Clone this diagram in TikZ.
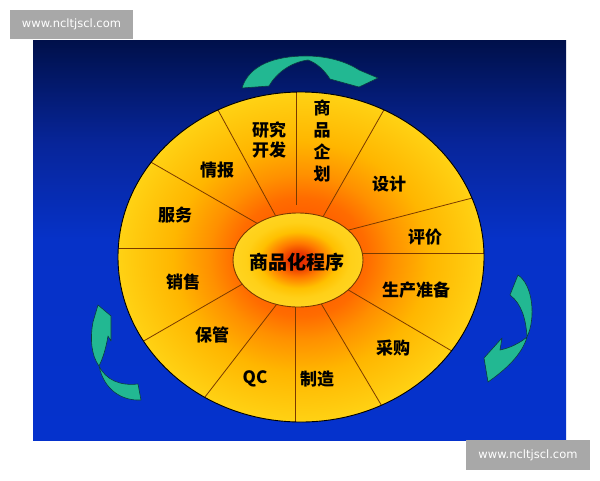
\documentclass[tikz,border=0pt]{standalone}
\usepackage{fontspec}
\newfontfamily\cjk{Noto Sans CJK SC}
\newfontfamily\wmfont{DejaVu Sans}
\definecolor{bgtop}{HTML}{00104A}
\definecolor{bgup}{HTML}{07259A}
\definecolor{bgmid}{HTML}{0632C8}
\definecolor{bgbot}{HTML}{0532CC}
\definecolor{dkA}{HTML}{FF4000}
\definecolor{dkB}{HTML}{FF6C00}
\definecolor{dkC}{HTML}{FF9000}
\definecolor{dkD}{HTML}{FFB600}
\definecolor{dkE}{HTML}{FFD214}
\definecolor{hbA}{HTML}{E02800}
\definecolor{hbB}{HTML}{EA3800}
\definecolor{hbC}{HTML}{FF7800}
\definecolor{hbD}{HTML}{FFC000}
\definecolor{hbE}{HTML}{FFD018}
\definecolor{hbF}{HTML}{FFD420}
\definecolor{spokecol}{HTML}{7A3A00}
\definecolor{arrfill}{HTML}{22B892}
\definecolor{arrline}{HTML}{0B3B40}
\definecolor{wmgray}{HTML}{A8A8A8}
\pgfdeclareverticalshading{bluebg}{100bp}{color(0bp)=(bgbot); color(25bp)=(bgbot); color(50bp)=(bgmid); color(62bp)=(bgup); color(75bp)=(bgtop); color(100bp)=(bgtop)}
\pgfdeclareradialshading{disk}{\pgfpoint{0bp}{0bp}}{color(0bp)=(dkA); color(9bp)=(dkB); color(12.5bp)=(dkC); color(17.5bp)=(dkD); color(25bp)=(dkE); color(50bp)=(dkE)}
\pgfdeclareradialshading{hub}{\pgfpoint{0bp}{0bp}}{color(0bp)=(hbA); color(4bp)=(hbB); color(9bp)=(hbC); color(15bp)=(hbD); color(20bp)=(hbE); color(25bp)=(hbF); color(50bp)=(hbF)}
\tikzset{
  spoke/.style={draw=spokecol, line width=0.8pt},
  lbl/.style={font=\cjk\bfseries\fontsize{17}{20}\selectfont, inner sep=0pt, text=black, align=center},
  arrshape/.style={fill=arrfill, draw=arrline, line width=0.6pt, line join=round},
  wm/.style={fill=wmgray, text=white, font=\wmfont\fontsize{11.5}{13}\selectfont, inner sep=0pt}
}
\begin{document}
\begin{tikzpicture}[x=1pt,y=-1pt]
\useasboundingbox (0,0) rectangle (600,480);
\fill[white] (0,0) rectangle (600,480);
\shade[shading=bluebg] (33,40) rectangle (566,440);
% watermarks
\node[wm, minimum width=123pt, minimum height=29pt] (wm1) at (71.5,24.5) {www.ncltjscl.com};
\node[wm, minimum width=124pt, minimum height=30pt] (wm2) at (528,455) {www.ncltjscl.com};
% big disk
\shade[shading=disk] (301,257) ellipse [x radius=183, y radius=165];
\begin{scope}
\clip (301,257) ellipse [x radius=183, y radius=165];
\draw[spoke] (296,205) -- (296,80);
\draw[spoke] (320,222) -- (389,101);
\draw[spoke] (345,231) -- (480,196);
\draw[spoke] (355,253) -- (495,253);
\draw[spoke] (345,288) -- (462,357);
\draw[spoke] (319,300) -- (386,413);
\draw[spoke] (295,300) -- (295,435);
\draw[spoke] (280,300) -- (198,406);
\draw[spoke] (246,282) -- (135,346);
\draw[spoke] (240,248) -- (105,248);
\draw[spoke] (260,225) -- (142,157);
\draw[spoke] (279,222) -- (212,99);
\end{scope}
\draw[black, line width=0.9pt] (301,257) ellipse [x radius=183, y radius=165];
% hub
\path[shading=hub, shade, draw=spokecol, line width=0.9pt] (298,260) ellipse [x radius=65, y radius=47];
\node[lbl, font=\cjk\bfseries\fontsize{19}{22}\selectfont] (hubtxt) at (297,262) {商品化程序};
% labels
\node[lbl, font=\cjk\bfseries\fontsize{17}{22.3}\selectfont] (l1) at (322,141) {商\\品\\企\\划};
\node[lbl] (l2) at (389,184) {设计};
\node[lbl] (l3) at (425,237) {评价};
\node[lbl] (l4) at (416,290) {生产准备};
\node[lbl] (l5) at (393,348) {采购};
\node[lbl] (l6) at (317,379) {制造};
\node[lbl] (l7) at (255,379) {QC};
\node[lbl] (l8) at (212,335) {保管};
\node[lbl] (l9) at (183,282) {销售};
\node[lbl] (l10) at (175,215) {服务};
\node[lbl] (l11) at (217,170) {情报};
\node[lbl] (l12) at (269,140) {研究\\开发};
% top arrow
\path[arrshape] (242,88) .. controls (249,65) and (275,56) .. (306,56)
  .. controls (328,56) and (347,62) .. (359,70) -- (378,78) -- (359,87) -- (330,79)
  .. controls (325,71) and (317,63) .. (308,60)
  .. controls (292,62) and (277,72) .. (269,86) -- cycle;
% right arrow
\path[arrshape] (518,275) .. controls (533,285) and (536,318) .. (527,337)
  .. controls (522,355) and (505,370) .. (488,382) -- (484,358) -- (502,338) -- (500,350)
  .. controls (510,348) and (520,343) .. (527,337)
  .. controls (526,320) and (522,304) .. (510,295) -- cycle;
% left arrow
\path[arrshape] (138,384) -- (141,400)
  .. controls (122,401) and (104,390) .. (99,366)
  .. controls (91,355) and (90,338) .. (93,322) -- (98,305) -- (111,316) -- (111,341) -- (108,336)
  .. controls (106,348) and (103,358) .. (99,366)
  .. controls (106,380) and (120,386) .. (138,384) -- cycle;
\end{tikzpicture}
\end{document}
